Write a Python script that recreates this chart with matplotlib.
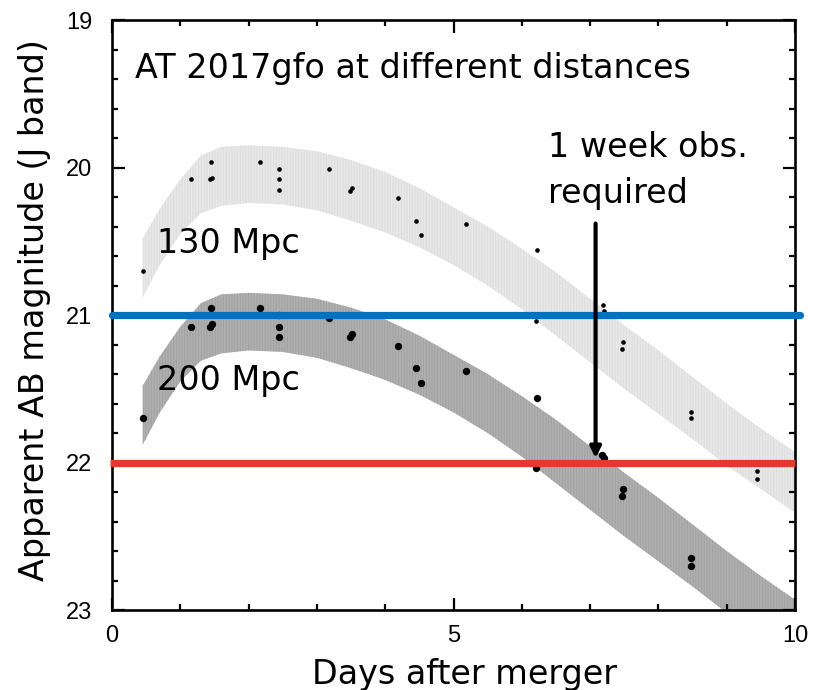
import matplotlib
matplotlib.use("Agg")
import matplotlib.pyplot as plt
from matplotlib.ticker import MultipleLocator

plt.rcParams["font.family"] = ["DejaVu Sans"]
plt.rcParams["hatch.linewidth"] = 0.8

# Model band edges (bright / faint) for the 130 Mpc and 200 Mpc cases
band_days = [0.45, 0.7, 1.0, 1.3, 1.6, 2.0, 2.5, 3.0, 3.5, 4.0, 4.5,
             5.0, 5.5, 6.0, 6.5, 7.0, 7.5, 8.0, 8.5, 9.0, 9.5, 10.0]
near_bright = [20.48, 20.28, 20.08, 19.92, 19.86, 19.85, 19.86, 19.89, 19.95, 20.03, 20.14,
               20.27, 20.40, 20.55, 20.71, 20.89, 21.07, 21.24, 21.42, 21.60, 21.77, 21.93]
near_faint = [20.88, 20.66, 20.45, 20.31, 20.26, 20.24, 20.25, 20.29, 20.36, 20.44, 20.54,
              20.66, 20.80, 20.96, 21.14, 21.32, 21.50, 21.67, 21.84, 22.02, 22.18, 22.34]
far_bright = [21.48, 21.28, 21.08, 20.92, 20.86, 20.85, 20.86, 20.89, 20.95, 21.03, 21.14,
              21.27, 21.40, 21.55, 21.71, 21.89, 22.07, 22.24, 22.42, 22.60, 22.77, 22.93]
far_faint = [21.88, 21.66, 21.45, 21.31, 21.26, 21.24, 21.25, 21.29, 21.36, 21.44, 21.54,
             21.66, 21.80, 21.96, 22.14, 22.32, 22.50, 22.67, 22.84, 23.02, 23.18, 23.34]

# J-band photometry of AT 2017gfo scaled to each distance
near_days = [0.45, 1.16, 1.45, 1.43, 1.47, 2.17, 2.44, 2.44, 2.44, 3.17, 3.48, 3.52, 4.19,
             4.45, 4.53, 5.19, 6.22, 6.21, 7.19, 7.20, 7.48, 7.46, 8.47, 8.47, 9.45, 9.45]
near_mag = [20.70, 20.08, 19.96, 20.08, 20.07, 19.96, 20.01, 20.08, 20.15, 20.01, 20.16, 20.14, 20.21,
            20.36, 20.46, 20.38, 20.56, 21.04, 20.93, 20.97, 21.18, 21.23, 21.66, 21.70, 22.06, 22.11]
far_days = [0.45, 1.16, 1.45, 1.43, 1.47, 2.17, 2.44, 2.44, 2.44, 3.17, 3.48, 3.52, 4.19,
            4.45, 4.53, 5.19, 6.22, 6.21, 7.17, 7.20, 7.48, 7.46, 8.47, 8.47]
far_mag = [21.70, 21.08, 20.95, 21.08, 21.06, 20.95, 21.00, 21.08, 21.15, 21.02, 21.15, 21.13, 21.21,
           21.36, 21.46, 21.38, 21.56, 22.04, 21.95, 21.97, 22.18, 22.23, 22.65, 22.70]

# Limiting magnitudes and required observation time
limit_blue = 21.0
limit_red = 22.0
week_day = 7.08
arrow_top = 20.38
arrow_tip = 21.97

fig = plt.figure(figsize=(8.15, 6.9), dpi=100)
ax = fig.add_axes([0.1374, 0.1159, 0.8381, 0.8551])

ax.fill_between(band_days, near_bright, near_faint, facecolor="#E8E8E8",
                edgecolor="#DEDEDE", hatch="||||||", linewidth=0, zorder=1)
ax.fill_between(band_days, far_bright, far_faint, facecolor="#B0B0B0",
                edgecolor="#A2A2A2", hatch="||||||", linewidth=0, zorder=1)

ax.scatter(near_days, near_mag, s=11, color="black", zorder=3, linewidths=0)
ax.scatter(far_days, far_mag, s=28, color="black", zorder=3, linewidths=0)

ax.annotate("", xy=(week_day, arrow_tip), xytext=(week_day, arrow_top),
            arrowprops=dict(arrowstyle="-|>", color="black", lw=3,
                            mutation_scale=16, shrinkA=0, shrinkB=0),
            zorder=5)

ax.plot([0, 10.08], [limit_blue, limit_blue], color="#0070C0", lw=5.2,
        solid_capstyle="round", clip_on=False, zorder=4)
ax.plot([-0.03, 10.0], [limit_red, limit_red], color="#E5392B", lw=5.2,
        solid_capstyle="butt", clip_on=False, zorder=6)

ax.text(0.34, 19.39, "AT 2017gfo at different distances", fontsize=24,
        ha="left", va="baseline", zorder=7)
ax.text(0.66, 20.58, "130 Mpc", fontsize=24, ha="left", va="baseline", zorder=7)
ax.text(0.66, 21.51, "200 Mpc", fontsize=24, ha="left", va="baseline", zorder=7)
ax.text(6.38, 19.93, "1 week obs.", fontsize=24, ha="left", va="baseline", zorder=7)
ax.text(6.38, 20.24, "required", fontsize=24, ha="left", va="baseline", zorder=7)

ax.set_xlim(0, 10)
ax.set_ylim(23, 19)
ax.xaxis.set_major_locator(MultipleLocator(5))
ax.xaxis.set_minor_locator(MultipleLocator(1))
ax.yaxis.set_major_locator(MultipleLocator(1))
ax.yaxis.set_minor_locator(MultipleLocator(0.2))
ax.tick_params(which="both", direction="in", top=True, right=True, width=1.6)
ax.tick_params(which="major", length=9)
ax.tick_params(which="minor", length=4.5)
ax.tick_params(axis="x", which="major", pad=11)
ax.tick_params(axis="y", which="major", pad=14)
for lab in ax.get_xticklabels() + ax.get_yticklabels():
    lab.set_fontfamily(["Liberation Sans", "DejaVu Sans"])
    lab.set_fontsize(17)
for sp in ax.spines.values():
    sp.set_linewidth(1.9)

fig.text(35 / 815, 1 - 310 / 690, "Apparent AB magnitude (J band)", fontsize=24,
         rotation=90, ha="center", va="center")
fig.text(464 / 815, 6 / 690, "Days after merger", fontsize=24,
         ha="center", va="baseline")

fig.savefig("out.png", dpi=100)
